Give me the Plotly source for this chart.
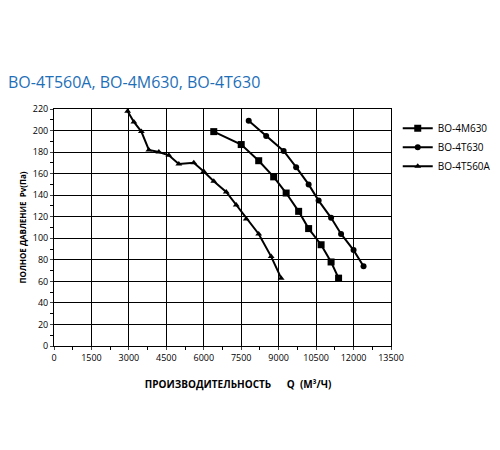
import plotly.graph_objects as go

q560 = [2950, 3200, 3500, 3800, 4200, 4600, 5000, 5600, 6000, 6400, 6900, 7300, 7700, 8200, 8700, 9100]
p560 = [218, 208, 199, 182, 180, 177, 169, 170, 162, 153, 143, 131, 118, 104, 83, 63]
qm630 = [6400, 7500, 8200, 8800, 9300, 9800, 10200, 10700, 11100, 11400]
pm630 = [199, 187, 172, 157, 142, 125, 109, 94, 78, 63]
qt630 = [7800, 8500, 9200, 9700, 10200, 10600, 11100, 11500, 12000, 12400]
pt630 = [209, 195, 181, 166, 150, 135, 119, 104, 89, 74]
xticks = list(range(0, 13501, 1500))
xlabels = [str(v) for v in xticks]
yticks = list(range(0, 221, 20))

fig = go.Figure()
ln = dict(color="black", width=2)
fig.add_trace(go.Scatter(x=qm630, y=pm630, name="ВО-4М630", mode="lines+markers", line=ln, marker=dict(symbol="square", size=7, color="black")))
fig.add_trace(go.Scatter(x=qt630, y=pt630, name="ВО-4Т630", mode="lines+markers", line=ln, marker=dict(symbol="circle", size=6, color="black")))
fig.add_trace(go.Scatter(x=q560, y=p560, name="ВО-4Т560А", mode="lines+markers", line=ln, marker=dict(symbol="triangle-up", size=6, color="black")))

fig.update_layout(
    width=500, height=450, paper_bgcolor="white", plot_bgcolor="white",
    margin=dict(l=46, r=84, t=101, b=112),
    font=dict(family="Open Sans", size=9, color="black"),
    title=dict(text="ВО-4Т560А, ВО-4М630, ВО-4Т630", x=0.0, xanchor="left", y=0.835, yanchor="middle",
               font=dict(family="Open Sans", size=16, color="#1e6fb8")),
    legend=dict(x=1.02, y=0.98, xanchor="left", yanchor="top", font=dict(size=10), tracegroupgap=4),
    xaxis=dict(range=[0, 13500], tickvals=xticks, ticktext=xlabels, showgrid=True, gridcolor="black", gridwidth=1,
               showline=True, linecolor="black", linewidth=1, mirror=True, ticks="outside", ticklen=3,
               minor=dict(dtick=750, ticks="outside", ticklen=3, tickcolor="black"),
               title=dict(text="<b>            ПРОИЗВОДИТЕЛЬНОСТЬ      Q  (М³/Ч)</b>", font=dict(size=10), standoff=18), zeroline=False),
    yaxis=dict(range=[0, 220], tickvals=yticks, showgrid=True, gridcolor="black", gridwidth=1,
               showline=True, linecolor="black", linewidth=1, mirror=True, ticks="outside", ticklen=3,
               minor=dict(dtick=10, ticks="outside", ticklen=3, tickcolor="black"),
               title=dict(text="<b>ПОЛНОЕ ДАВЛЕНИЕ  Pv(Па)</b>", font=dict(size=8), standoff=4), zeroline=False),
)
fig.write_html("out.html")
